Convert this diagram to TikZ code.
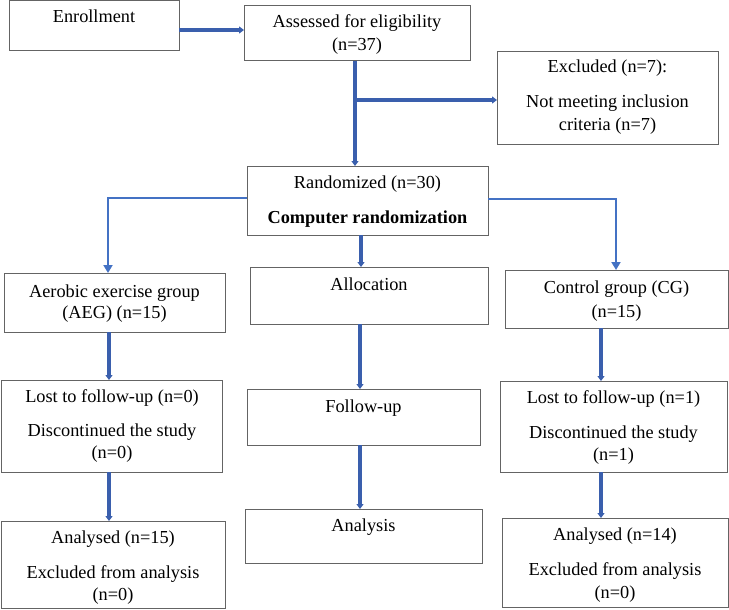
\documentclass[tikz,border=0pt]{standalone}
\usepackage{fontspec}
\setmainfont{Liberation Serif}
\usetikzlibrary{arrows.meta}
\definecolor{thickblue}{RGB}{58,95,173}
\definecolor{thinblue}{RGB}{68,114,196}
\definecolor{boxgray}{RGB}{100,100,100}
\begin{document}
\begin{tikzpicture}[x=1pt,y=-1pt,
  box/.style={draw=boxgray,line width=1pt,inner sep=0pt,outer sep=0pt,fill=white},
  txt/.style={anchor=base,inner sep=0pt,font=\fontsize{18.3}{21}\selectfont},
  thk/.style={draw=thickblue,line width=3.5pt,-{Triangle[length=5pt,width=7pt]}},
  thn/.style={draw=thinblue,line width=1.8pt,line join=miter,-{Triangle[length=8pt,width=9pt]}}]
\useasboundingbox (0,0) rectangle (729,610);
% boxes
\node[box,minimum width=170pt,minimum height=50pt] (enroll) at (94,26) {};
\node[box,minimum width=226pt,minimum height=55pt] (assess) at (357,33.5) {};
\node[box,minimum width=221pt,minimum height=92pt] (excl) at (607.5,98) {};
\node[box,minimum width=241pt,minimum height=69pt] (rand) at (367.5,200.5) {};
\node[box,minimum width=221pt,minimum height=59pt] (aeg) at (114.5,302.5) {};
\node[box,minimum width=238pt,minimum height=57pt] (alloc) at (369,295.5) {};
\node[box,minimum width=223pt,minimum height=58pt] (ctrl) at (616.5,299) {};
\node[box,minimum width=221pt,minimum height=92pt] (lostA) at (112,426) {};
\node[box,minimum width=233pt,minimum height=56pt] (follow) at (363.5,417) {};
\node[box,minimum width=227pt,minimum height=91pt] (lostC) at (613.5,426.5) {};
\node[box,minimum width=224pt,minimum height=87pt] (anaA) at (113,564.5) {};
\node[box,minimum width=237pt,minimum height=54pt] (analysis) at (363.5,536) {};
\node[box,minimum width=226pt,minimum height=89pt] (anaC) at (615,562.5) {};
% texts
\node[txt] (t1) at (94,23) {Enrollment};
\node[txt] (t2) at (357,28) {Assessed for eligibility};
\node[txt] (t3) at (357,51) {(n=37)};
\node[txt] (t4) at (607.5,73) {Excluded (n=7):};
\node[txt] (t5) at (607.5,108) {Not meeting inclusion};
\node[txt] (t6) at (607.5,130) {criteria (n=7)};
\node[txt] (t7) at (367.5,188) {Randomized (n=30)};
\node[txt,font=\fontsize{18.3}{21}\selectfont\bfseries] (t8) at (367.5,223) {Computer randomization};
\node[txt] (t9) at (114.5,297) {Aerobic exercise group};
\node[txt] (t10) at (114.5,318) {(AEG) (n=15)};
\node[txt] (t11) at (369,290) {Allocation};
\node[txt] (t12) at (616.5,293) {Control group (CG)};
\node[txt] (t13) at (616.5,317) {(n=15)};
\node[txt] (t14) at (112,402) {Lost to follow-up (n=0)};
\node[txt] (t15) at (112,436) {Discontinued the study};
\node[txt] (t16) at (112,458) {(n=0)};
\node[txt] (t17) at (363.5,412) {Follow-up};
\node[txt] (t18) at (613.5,403) {Lost to follow-up (n=1)};
\node[txt] (t19) at (613.5,438) {Discontinued the study};
\node[txt] (t20) at (613.5,460) {(n=1)};
\node[txt] (t21) at (113,543) {Analysed (n=15)};
\node[txt] (t22) at (113,578) {Excluded from analysis};
\node[txt] (t23) at (113,600) {(n=0)};
\node[txt] (t24) at (363.5,531) {Analysis};
\node[txt] (t25) at (615,540) {Analysed (n=14)};
\node[txt] (t26) at (615,575) {Excluded from analysis};
\node[txt] (t27) at (615,598) {(n=0)};
% helper coordinates
\coordinate (colT) at (355,0);
\coordinate (br) at (355,100);
\coordinate (colM1) at (361,0);
\coordinate (colM) at (360,0);
\coordinate (colA) at (109,0);
\coordinate (colC) at (601,0);
\coordinate (lA) at (108,198);
\coordinate (rC) at (616,199);
% connectors
\draw[thk] ([yshift=-4pt]enroll.east) -- ([yshift=-4pt]enroll.east -| assess.west);
\draw[thk] (assess.south -| colT) -- (rand.north -| colT);
\draw[thk] (br) -- (br -| excl.west);
\draw[thn] (rand.west |- lA) -- (lA) -- (lA |- aeg.north);
\draw[thn] (rand.east |- rC) -- (rC) -- (rC |- ctrl.north);
\draw[thk] (rand.south -| colM1) -- (alloc.north -| colM1);
\draw[thk] (alloc.south -| colM) -- (follow.north -| colM);
\draw[thk] (follow.south -| colM) -- (analysis.north -| colM);
\draw[thk] (aeg.south -| colA) -- (lostA.north -| colA);
\draw[thk] (lostA.south -| colA) -- (anaA.north -| colA);
\draw[thk] (ctrl.south -| colC) -- (lostC.north -| colC);
\draw[thk] (lostC.south -| colC) -- (anaC.north -| colC);
\end{tikzpicture}
\end{document}
